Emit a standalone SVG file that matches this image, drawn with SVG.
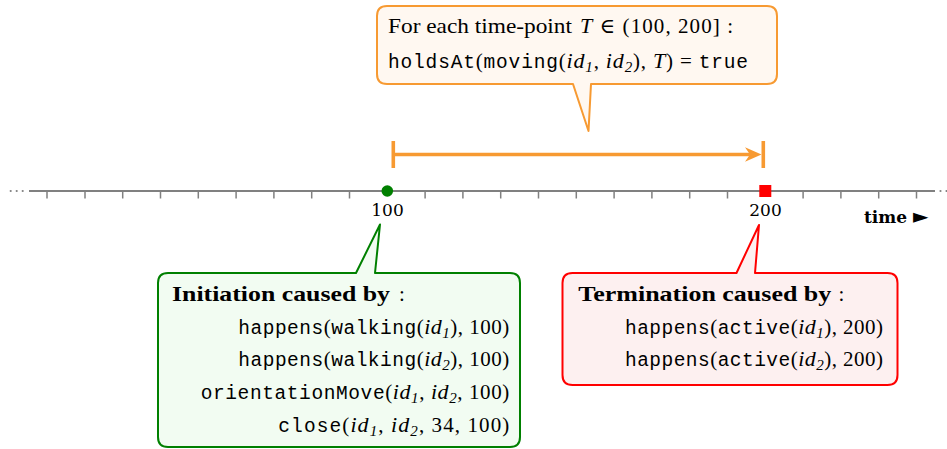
<svg xmlns="http://www.w3.org/2000/svg" width="947" height="449" viewBox="0 0 947 449">
<defs>
<style>
.rm{font-family:"Liberation Serif","DejaVu Serif",serif;font-size:21px;fill:#000}
.bf{font-weight:bold;font-size:22px}
.tt{font-family:"Liberation Mono","DejaVu Sans Mono",monospace;font-size:19.5px}
.it{font-style:italic;font-size:22px}
.sb{font-style:italic;font-size:15px}
.ax{font-family:"DejaVu Serif","Liberation Serif",serif;font-size:17px;fill:#000}
.axis{stroke:#808080;fill:none}
.org{stroke:#f79a32;fill:none;stroke-width:3.6}
.call{stroke-width:2;stroke-linejoin:round}
</style>
</defs>
<rect width="947" height="449" fill="#fff"/>
<g id="axis">
<path class="axis" stroke-width="2" d="M29,191H935"/>
<path class="axis" stroke-width="1.5" d="M47,191V198.5M85,191V198.5M122.7,191V198.5M160.5,191V198.5M198.3,191V198.5M236.1,191V198.5M273.9,191V198.5M311.7,191V198.5M349.5,191V198.5M425.1,191V198.5M462.9,191V198.5M500.7,191V198.5M538.5,191V198.5M576.3,191V198.5M614.1,191V198.5M651.9,191V198.5M689.7,191V198.5M727.5,191V198.5M803.1,191V198.5M840.9,191V198.5M878.7,191V198.5M916.5,191V198.5"/>
<g fill="#808080"><circle cx="10.7" cy="191" r="1.1"/><circle cx="16.7" cy="191" r="1.1"/><circle cx="22.7" cy="191" r="1.1"/><circle cx="940.5" cy="191" r="1.1"/><circle cx="946.5" cy="191" r="1.1"/></g>
<text class="ax" x="864" y="223" font-weight="bold">time <tspan font-family="DejaVu Sans" font-weight="normal" font-size="20">►</tspan></text>
</g>
<g id="marker-100">
<circle cx="387.3" cy="191" r="5.8" fill="#008000"/>
<text class="ax" x="387.5" y="215.5" text-anchor="middle">100</text>
</g>
<g id="marker-200">
<rect x="759.3" y="185" width="12" height="12" fill="#ff0000"/>
<text class="ax" x="765.5" y="215.5" text-anchor="middle">200</text>
</g>
<g id="connectors">
<path class="org" d="M393.3,154.5H750M393.3,141V168M763.3,141V168"/>
<path d="M761.5,154.5L745,147.3L750,154.5L745,161.7Z" fill="#f79a32"/>
</g>
<g id="callout-holds">
<path class="call" fill="#fff8f1" stroke="#f79a32" d="M387,6H767Q777,6 777,16V74Q777,84 767,84H591L588.5,131L573,84H387Q377,84 377,74V16Q377,6 387,6Z"/>
<text class="rm" x="388" y="33" textLength="184" lengthAdjust="spacingAndGlyphs">For each time-point</text>
<text class="rm" x="580" y="33" textLength="153"><tspan class="it">T</tspan> ∈ (100, 200] :</text>
<text class="rm" x="388" y="67.5" textLength="360"><tspan class="tt">holdsAt</tspan>(<tspan class="tt">moving</tspan>(<tspan class="it">id</tspan><tspan class="sb" dy="4">1</tspan><tspan dy="-4">, </tspan><tspan class="it">id</tspan><tspan class="sb" dy="4">2</tspan><tspan dy="-4">), </tspan><tspan class="it">T</tspan>) = <tspan class="tt">true</tspan></text>
</g>
<g id="callout-init">
<path class="call" fill="#f2fcf2" stroke="#008000" d="M168,273H356L380,224.5L375,273H510Q520,273 520,283V437Q520,447 510,447H168Q158,447 158,437V283Q158,273 168,273Z"/>
<text class="rm bf" x="172" y="301" textLength="218" lengthAdjust="spacingAndGlyphs">Initiation caused by</text>
<text class="rm" x="399" y="301">:</text>
<text class="rm" x="238.3" y="333.5" textLength="271"><tspan class="tt">happens</tspan>(<tspan class="tt">walking</tspan>(<tspan class="it">id</tspan><tspan class="sb" dy="4">1</tspan><tspan dy="-4">), 100)</tspan></text>
<text class="rm" x="238.3" y="366" textLength="271"><tspan class="tt">happens</tspan>(<tspan class="tt">walking</tspan>(<tspan class="it">id</tspan><tspan class="sb" dy="4">2</tspan><tspan dy="-4">), 100)</tspan></text>
<text class="rm" x="200.7" y="399" textLength="308.6"><tspan class="tt">orientationMove</tspan>(<tspan class="it">id</tspan><tspan class="sb" dy="4">1</tspan><tspan dy="-4">, </tspan><tspan class="it">id</tspan><tspan class="sb" dy="4">2</tspan><tspan dy="-4">, 100)</tspan></text>
<text class="rm" x="278.3" y="432" textLength="231"><tspan class="tt">close</tspan>(<tspan class="it">id</tspan><tspan class="sb" dy="4">1</tspan><tspan dy="-4">, </tspan><tspan class="it">id</tspan><tspan class="sb" dy="4">2</tspan><tspan dy="-4">, 34, 100)</tspan></text>
</g>
<g id="callout-term">
<path class="call" fill="#fdf0f0" stroke="#ff0000" d="M572.5,273H736.5L759,225L755,273H887.5Q897.5,273 897.5,283V375Q897.5,385 887.5,385H572.5Q562.5,385 562.5,375V283Q562.5,273 572.5,273Z"/>
<text class="rm bf" x="578.3" y="301" textLength="253" lengthAdjust="spacingAndGlyphs">Termination caused by</text>
<text class="rm" x="838.5" y="301">:</text>
<text class="rm" x="625" y="333.5" textLength="258"><tspan class="tt">happens</tspan>(<tspan class="tt">active</tspan>(<tspan class="it">id</tspan><tspan class="sb" dy="4">1</tspan><tspan dy="-4">), 200)</tspan></text>
<text class="rm" x="625" y="366" textLength="258"><tspan class="tt">happens</tspan>(<tspan class="tt">active</tspan>(<tspan class="it">id</tspan><tspan class="sb" dy="4">2</tspan><tspan dy="-4">), 200)</tspan></text>
</g>
</svg>
